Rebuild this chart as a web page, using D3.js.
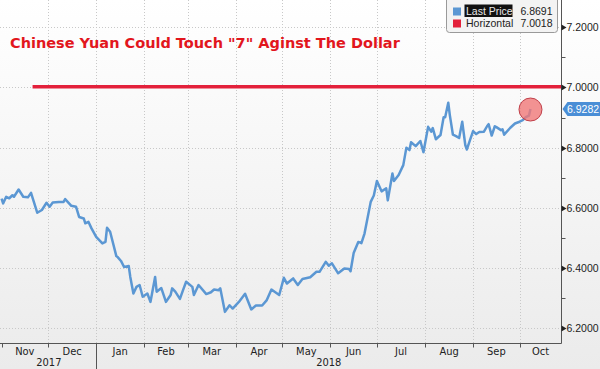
<!DOCTYPE html>
<html lang="en">
<head>
<meta charset="UTF-8">
<title>Chinese Yuan</title>
<script src="https://d3js.org/d3.v7.min.js"></script>
<style>
  body { margin: 0; }
  svg { display: block; }
  .grid line { stroke: #c8c8c8; stroke-dasharray: 1,2; }
  .ax { font-family: "Liberation Sans", Arial, sans-serif; font-size: 10.5px; }
  .mon { font-family: "Liberation Sans Narrow", "DejaVu Sans Condensed", sans-serif; font-size: 11px; fill: #222; }
</style>
</head>
<body>
<svg id="chart" width="600" height="369"></svg>
<script>
// USD/CNY daily close
const dates = [
  "2017-11-01","2017-11-02","2017-11-04","2017-11-06","2017-11-08","2017-11-09","2017-11-12","2017-11-15",
  "2017-11-18","2017-11-20","2017-11-24","2017-11-27","2017-11-30","2017-12-02","2017-12-04","2017-12-08",
  "2017-12-11","2017-12-12","2017-12-16","2017-12-19","2017-12-21","2017-12-24","2017-12-25","2017-12-27",
  "2017-12-29","2018-01-01","2018-01-05","2018-01-07","2018-01-08","2018-01-10","2018-01-14","2018-01-15",
  "2018-01-17","2018-01-19","2018-01-22","2018-01-23","2018-01-25","2018-01-27","2018-01-29","2018-01-31",
  "2018-02-03","2018-02-05","2018-02-08","2018-02-09","2018-02-12","2018-02-15","2018-02-18","2018-02-19",
  "2018-02-21","2018-02-24","2018-02-26","2018-02-28","2018-03-04","2018-03-05","2018-03-08","2018-03-13",
  "2018-03-16","2018-03-18","2018-03-21","2018-03-22","2018-03-25","2018-03-28","2018-03-30","2018-04-03",
  "2018-04-07","2018-04-11","2018-04-14","2018-04-18","2018-04-21","2018-04-24","2018-04-29","2018-05-02",
  "2018-05-04","2018-05-08","2018-05-11","2018-05-14","2018-05-19","2018-05-23","2018-05-25","2018-05-29",
  "2018-05-31","2018-06-02","2018-06-06","2018-06-10","2018-06-13","2018-06-14","2018-06-16","2018-06-19",
  "2018-06-21","2018-06-23","2018-06-27","2018-06-29","2018-07-01","2018-07-04","2018-07-07","2018-07-08",
  "2018-07-11","2018-07-12","2018-07-15","2018-07-18","2018-07-20","2018-07-22","2018-07-23","2018-07-26",
  "2018-07-29","2018-07-31","2018-08-03","2018-08-05","2018-08-06","2018-08-08","2018-08-11","2018-08-13",
  "2018-08-14","2018-08-16","2018-08-17","2018-08-19","2018-08-21","2018-08-23","2018-08-25","2018-08-27",
  "2018-08-28","2018-08-30","2018-09-01","2018-09-03","2018-09-05","2018-09-08","2018-09-10","2018-09-11",
  "2018-09-13","2018-09-15","2018-09-16","2018-09-19","2018-09-20","2018-09-21","2018-09-25","2018-09-28",
  "2018-10-01","2018-10-03","2018-10-05","2018-10-07","2018-10-08"
];
const values = [
  6.631,6.615,6.637,6.632,6.642,6.637,6.661,6.637,
  6.635,6.650,6.584,6.593,6.617,6.604,6.618,6.620,
  6.620,6.629,6.607,6.604,6.570,6.565,6.549,6.554,
  6.532,6.504,6.482,6.487,6.534,6.521,6.440,6.436,
  6.424,6.404,6.407,6.371,6.316,6.338,6.344,6.305,
  6.316,6.288,6.371,6.322,6.334,6.288,6.311,6.333,
  6.322,6.298,6.327,6.355,6.338,6.311,6.344,6.314,
  6.320,6.329,6.327,6.333,6.255,6.277,6.266,6.288,
  6.315,6.263,6.276,6.276,6.294,6.329,6.311,6.368,
  6.349,6.366,6.344,6.364,6.370,6.388,6.388,6.421,
  6.408,6.416,6.383,6.399,6.397,6.390,6.450,6.487,
  6.483,6.515,6.620,6.641,6.689,6.655,6.665,6.625,
  6.714,6.689,6.709,6.742,6.800,6.792,6.818,6.805,
  6.822,6.785,6.869,6.853,6.865,6.828,6.842,6.901,
  6.901,6.949,6.908,6.843,6.838,6.832,6.886,6.808,
  6.794,6.825,6.855,6.845,6.852,6.853,6.871,6.878,
  6.840,6.871,6.868,6.858,6.861,6.843,6.866,6.880,
  6.886,6.891,6.901,6.906,6.9282
];
const yTicks = [6.2, 6.4, 6.6, 6.8, 7.0, 7.2];
const yMinorTicks = [6.3, 6.5, 6.7, 6.9, 7.1];
const monthLabels = ["Nov","Dec","Jan","Feb","Mar","Apr","May","Jun","Jul","Aug","Sep","Oct"];
const yearLabels = ["2017","2018"];
const horizontalLevel = 7.0018;
const horizontalStart = "2017-11-21";
const lastPrice = 6.8691;
const titleText = "Chinese Yuan Could Touch \"7\" Aginst The Dollar";

const svg = d3.select("#chart");
const W = 600, H = 369;
const plotR = 561.5, plotB = 343.5;
const parse = d3.timeParse("%Y-%m-%d");
const blue = "#5b97d3", red = "#e3203b";

const data = dates.map((d, i) => ({ date: parse(d), value: values[i] }));

const x = d3.scaleTime()
  .domain([new Date(2017, 9, 31), new Date(2018, 9, 28)])
  .range([0, plotR]);
const y = d3.scaleLinear().domain([6.15, 7.29]).range([plotB, 0]);

// background
const defs = svg.append("defs");
const grad = defs.append("linearGradient").attr("id", "bg")
  .attr("x1", 0).attr("y1", 0).attr("x2", 0).attr("y2", 1);
grad.append("stop").attr("offset", "0%").attr("stop-color", "#ffffff");
grad.append("stop").attr("offset", "100%").attr("stop-color", "#ebebeb");
svg.append("rect").attr("width", W).attr("height", H).attr("fill", "url(#bg)");

// month boundaries
const monthStarts = d3.timeMonth.range(new Date(2017, 10, 1), new Date(2018, 10, 1));

// grid
const grid = svg.append("g").attr("class", "grid");
grid.selectAll("line.h").data(yTicks).join("line").attr("class", "h")
  .attr("x1", 0).attr("x2", plotR)
  .attr("y1", d => Math.round(y(d)) + 0.5).attr("y2", d => Math.round(y(d)) + 0.5);
grid.selectAll("line.v").data(monthStarts.slice(1)).join("line").attr("class", "v")
  .attr("x1", d => Math.round(x(d)) + 0.5).attr("x2", d => Math.round(x(d)) + 0.5)
  .attr("y1", 0).attr("y2", plotB);

// horizontal level line
svg.append("line")
  .attr("x1", x(parse(horizontalStart))).attr("x2", plotR)
  .attr("y1", y(horizontalLevel)).attr("y2", y(horizontalLevel))
  .attr("stroke", red).attr("stroke-width", 3.5);

// price line
const line = d3.line().x(d => x(d.date)).y(d => y(d.value));
svg.append("path").datum(data)
  .attr("d", line)
  .attr("fill", "none")
  .attr("stroke", blue)
  .attr("stroke-width", 2.5)
  .attr("stroke-linejoin", "round");

// highlight circle on last point
const last = data[data.length - 1];
svg.append("circle")
  .attr("cx", x(last.date)).attr("cy", y(last.value) + 0.5).attr("r", 11.5)
  .attr("fill", "#f07878").attr("fill-opacity", 0.8)
  .attr("stroke", "#c0404a").attr("stroke-width", 1);

// title
svg.append("text")
  .attr("x", 10).attr("y", 48)
  .attr("font-family", "'DejaVu Sans', Verdana, sans-serif")
  .attr("font-weight", "bold")
  .attr("font-size", 14.5)
  .attr("fill", "#e2161d")
  .text(titleText);

// axes lines
svg.append("line").attr("x1", plotR).attr("x2", plotR).attr("y1", 0).attr("y2", plotB)
  .attr("stroke", "#555").attr("stroke-width", 1);
svg.append("line").attr("x1", 0).attr("x2", plotR).attr("y1", plotB).attr("y2", plotB)
  .attr("stroke", "#555").attr("stroke-width", 1);

// y axis: markers + labels
const yAx = svg.append("g");
yAx.selectAll("path").data(yTicks).join("path")
  .attr("d", d => { const yy = Math.round(y(d)) + 0.5; return `M${plotR},${yy - 3}L${plotR + 5},${yy}L${plotR},${yy + 3}Z`; })
  .attr("fill", "#222");
yAx.selectAll("text").data(yTicks).join("text")
  .attr("class", "ax")
  .attr("x", 566.5).attr("y", d => y(d) + 4)
  .style("fill", "#222")
  .text(d => d.toFixed(4));
yAx.selectAll("line").data(yMinorTicks).join("line")
  .attr("x1", plotR).attr("x2", plotR + 4)
  .attr("y1", d => Math.round(y(d)) + 0.5).attr("y2", d => Math.round(y(d)) + 0.5)
  .attr("stroke", "#555");

// x axis: ticks, month labels, years
const xAx = svg.append("g");
xAx.selectAll("line").data(monthStarts).join("line")
  .attr("x1", d => Math.round(x(d)) + 0.5).attr("x2", d => Math.round(x(d)) + 0.5)
  .attr("y1", plotB).attr("y2", plotB + 4)
  .attr("stroke", "#555");
xAx.selectAll("text").data(monthStarts).join("text")
  .attr("class", "mon")
  .attr("text-anchor", "middle")
  .attr("x", (d, i) => {
    const a = Math.max(0, x(d));
    const b = Math.min(plotR, x(d3.timeMonth.offset(d, 1)));
    return (a + b) / 2;
  })
  .attr("y", 355)
  .text((d, i) => monthLabels[i]);
const yearStart = x(new Date(2018, 0, 1));
svg.append("line").attr("x1", Math.round(yearStart) + 0.5).attr("x2", Math.round(yearStart) + 0.5)
  .attr("y1", plotB).attr("y2", H).attr("stroke", "#555");
svg.selectAll("text.yr").data(yearLabels).join("text")
  .attr("class", "mon yr")
  .attr("text-anchor", "middle")
  .attr("x", (d, i) => i === 0 ? (x(new Date(2017, 10, 1)) + yearStart) / 2 : (yearStart + plotR) / 2)
  .attr("y", 366)
  .text(d => d);

// right-hand value tag
const tagY = y(last.value);
svg.append("path")
  .attr("d", `M${plotR + 1},${tagY} L${plotR + 6},${tagY - 7} H600 V${tagY + 7} H${plotR + 6} Z`)
  .attr("fill", "#4a8ed6");
svg.append("text").attr("class", "ax")
  .attr("x", 567).attr("y", tagY + 4)
  .style("fill", "#fff")
  .text(last.value.toFixed(4));

// legend
const lg = svg.append("g");
lg.append("rect").attr("x", 446.5).attr("y", -4.5).attr("width", 111).attr("height", 37)
  .attr("rx", 3).attr("fill", "#f3f3f3").attr("stroke", "#9a9a9a");
const legendItems = [
  { name: "Last Price", color: blue, value: lastPrice, dark: true },
  { name: "Horizontal", color: red, value: horizontalLevel, dark: false }
];
const rows = lg.selectAll("g").data(legendItems).join("g")
  .attr("transform", (d, i) => `translate(0, ${i * 12})`);
rows.append("rect").attr("x", 453).attr("y", 7.5).attr("width", 8).attr("height", 8)
  .attr("fill", d => d.color);
rows.filter(d => d.dark).append("rect")
  .attr("x", 464.5).attr("y", 4.5).attr("width", 48).attr("height", 12.5).attr("fill", "#111");
rows.append("text").attr("class", "ax")
  .attr("x", 466).attr("y", 15)
  .style("fill", d => d.dark ? "#e8e8e8" : "#222")
  .text(d => d.name);
rows.append("text").attr("class", "ax")
  .attr("x", 552.5).attr("y", 15).attr("text-anchor", "end")
  .style("fill", "#222")
  .text(d => d.value.toFixed(4));
</script>
</body>
</html>
